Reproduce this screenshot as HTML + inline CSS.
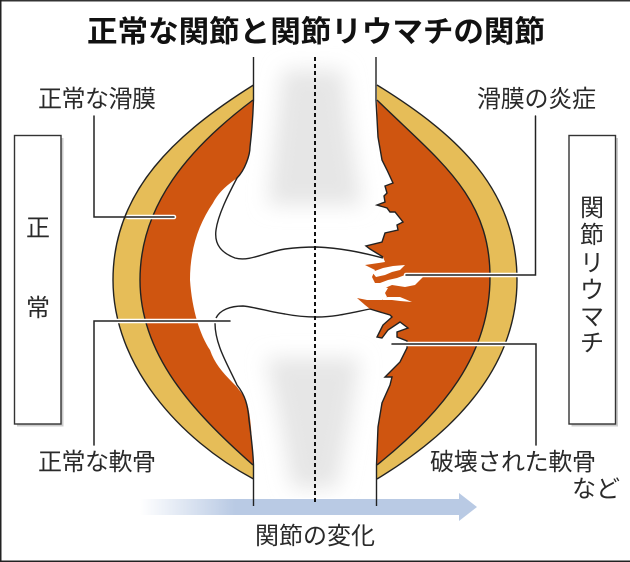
<!DOCTYPE html>
<html><head><meta charset="utf-8"><style>
html,body{margin:0;padding:0;background:#fff}
svg{display:block}
text{font-family:"Liberation Sans","Noto Sans CJK JP",sans-serif;fill:#2a2a2a;font-size:24px}
</style></head><body>
<svg width="630" height="562" viewBox="0 0 630 562" xmlns="http://www.w3.org/2000/svg">
<defs>
<filter id="b" x="-40%" y="-40%" width="180%" height="180%"><feGaussianBlur stdDeviation="10"/></filter>
<linearGradient id="ag" gradientUnits="userSpaceOnUse" x1="140" y1="0" x2="235" y2="0"><stop offset="0" stop-color="#fff"/><stop offset="1" stop-color="#b9cae4"/></linearGradient>
</defs>
<rect width="630" height="562" fill="#fff"/>
<!-- bone shading -->
<path d="M283,70 L343,70 L350,130 L362,205 L268,205 L276,130Z" fill="#e6e6e6" filter="url(#b)"/>
<path d="M266,358 L360,358 L350,420 L337,488 L292,488 L280,420Z" fill="#e6e6e6" filter="url(#b)"/>
<rect x="0" y="498" width="630" height="64" fill="#fff"/>
<rect x="0" y="0" width="630" height="1.5" fill="#333"/>
<rect x="0" y="0" width="1.5" height="562" fill="#222"/>
<rect x="0" y="560.5" width="630" height="1.5" fill="#222"/>
<!-- arrow -->
<path d="M140,499 H459 V493 L477,507 L459,521 V515 H140Z" fill="url(#ag)"/>
<!-- left gold -->
<path d="M253.5,85 C177,133 113,190 113,280 C113,365 179,439 253.5,479 V465 H253 C193,412 140,355 140,280 C140,205 189,148 253,100Z" fill="#e6bd58"/>
<!-- left orange -->
<path d="M253,100 C189,148 140,205 140,280 C140,355 193,412 253,465 C252,430 250,415 248,407 C245,395 240,392 237,387 C225,375 215,365 210,350 C200,335 192,310 190,280 C190,250 198,225 213,203 C220,190 228,185 237,178 C245,170 250,155 250,147 C252,130 253,115 253,100Z" fill="#cf5510"/>
<g fill="none" stroke="#222" stroke-width="1.4">
<path d="M253.5,85 C177,133 113,190 113,280 C113,365 179,439 253.5,479"/>
<path d="M253,100 C189,148 140,205 140,280 C140,355 193,412 253,465"/>
<path d="M253.5,57 V100 C253,115 252,130 250,147 C250,155 245,170 237,178 C228,195 218,215 216,230 C214,245 222,253 235,258 C250,262 265,252 285,249 C300,247 310,247 317,247 C340,248 360,252 383,258"/>
<path d="M216,318 C220,310 230,306 243,306 C255,307 270,312 285,314 C295,316 305,317 317,317 C335,317 350,313 370,309"/>
<path d="M215,323 C215,345 228,365 237,385 C245,395 248,405 249,420 C251,435 253,450 253.5,465 V506"/>
</g>
<!-- right gold -->
<path d="M377,85 C458,135 517,190 517,280 C517,365 458,430 377,479 V465 C443,412 490,355 490,277 C490,195 438,160 377,100Z" fill="#e6bd58"/>
<!-- right orange -->
<path d="M377,100 C438,160 490,195 490,277 C490,355 443,412 377,465 L378,427 L382,403 L390,385 L392,377 L385,377 L390,372 L400,362 L407,348 L407,341 L397,337 L397,332 L408,328 L400,322 L388,330 L382,338 L377,337 L383,325 L392,317 L390,315 L370,309 L365,305 L357,298 L367,300 L382,300 L387,297 L385,293 L388,288 L383,287 L375,283 L372,277 L375,270 L365,265 L385,262 L383,257 L370,249 L366,246 L382,242 L385,233 L398,230 L397,225 L403,222 L395,212 L390,212 L387,208 L377,205 L385,202 L384,196 L387,193 L385,186 L393,183 L387,170 L382,160 L378,137Z" fill="#cf5510"/>
<g fill="none" stroke="#222" stroke-width="1.4">
<path d="M377,85 C458,135 517,190 517,280 C517,365 458,430 377,479"/>
<path d="M377,100 C438,160 490,195 490,277 C490,355 443,412 377,465"/>
<path d="M376,57 V100 L378,137 L382,160 L387,170 L393,183 L385,186 L387,193 L384,196 L385,202 L377,205 L387,208 L390,212 L395,212 L403,222 L397,225 L398,230 L385,233 L382,242 L366,246 L370,249 L383,257"/>
<path d="M370,309 L390,315 L392,317 L383,325 L377,337 L382,338 L388,330 L400,322 L408,328 L397,332 L397,337 L407,341 L407,348 L400,362 L390,372 L385,377 L392,377 L390,385 L382,403 L378,427 L376.5,465 V506"/>
</g>
<!-- fissures -->
<g fill="#fff">
<path d="M372,272 L383,268 L393,266 L405,265 L400,270 L392,272 L385,275 L376,277Z"/>
<path d="M373,283 L380,283 L388,280 L397,278 L405,275 L407,275 L427,273 L415,285 L405,287 L392,285 L385,288 L378,287Z"/>
<path d="M382,298 L388,297 L400,297 L412,302 L400,301 L392,300 L383,300Z"/>
</g>
<!-- centre dashed -->
<line x1="315" y1="57" x2="315" y2="504" stroke="#111" stroke-width="2" stroke-dasharray="4 3"/>
<!-- boxes -->
<rect x="17" y="138" width="46.5" height="288.5" fill="#ccc"/>
<rect x="14.5" y="135.5" width="46.5" height="288.5" fill="#fff" stroke="#333" stroke-width="1.4"/>
<rect x="571.5" y="138" width="46.5" height="288.5" fill="#ccc"/>
<rect x="569" y="135.5" width="46.5" height="288.5" fill="#fff" stroke="#333" stroke-width="1.4"/>
<!-- leaders -->
<g fill="none" stroke-linecap="round">
<path d="M128,217 H174" stroke="#fff" stroke-width="4.5"/>
<path d="M115,321 H230" stroke="#fff" stroke-width="4.5"/>
<path d="M406,275 H520" stroke="#fff" stroke-width="4.5"/>
<path d="M392,344 H512" stroke="#fff" stroke-width="4.5"/>
<g stroke="#222" stroke-width="1.5">
<path d="M94,116 V217 H174"/>
<path d="M94,445 V321 H230"/>
<path d="M535.5,116 V275 H406"/>
<path d="M536,445 V344 H392"/>
</g></g>
<!-- text -->
<text x="87" y="42" style="font-size:30px;font-weight:700;fill:#111" textLength="458" lengthAdjust="spacingAndGlyphs">正常な関節と関節リウマチの関節</text>
<text x="38" y="107" textLength="118">正常な滑膜</text>
<text x="477" y="107" textLength="119">滑膜の炎症</text>
<text x="38" y="470" textLength="118">正常な軟骨</text>
<text x="430" y="470" textLength="166">破壊された軟骨</text>
<text x="572" y="497">など</text>
<text x="255" y="544" textLength="120">関節の変化</text>
<text x="26" y="236">正</text>
<text x="26" y="316">常</text>
<text x="580" y="216">関</text>
<text x="580" y="243">節</text>
<text x="580" y="271">リ</text>
<text x="580" y="298">ウ</text>
<text x="580" y="325">マ</text>
<text x="580" y="351">チ</text>
</svg>
</body></html>
